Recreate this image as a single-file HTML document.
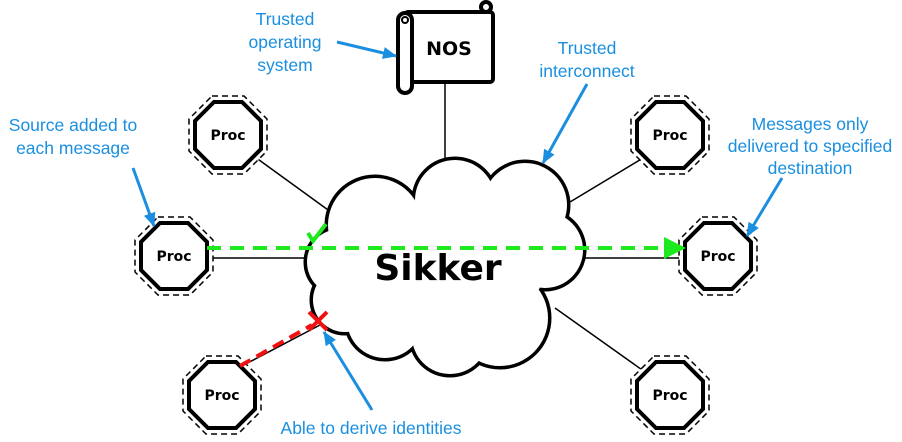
<!DOCTYPE html>
<html><head><meta charset="utf-8"><style>
html,body{margin:0;padding:0;background:#fff;width:902px;height:442px;overflow:hidden}
svg text{font-family:"Liberation Sans",sans-serif}
.lab{fill:#1a8fe0;font-size:17.5px;text-anchor:middle}
.pt{font-family:"DejaVu Sans",sans-serif!important;font-weight:bold;font-size:14px;text-anchor:middle}
</style></head><body>
<svg width="902" height="442" viewBox="0 0 902 442" xmlns="http://www.w3.org/2000/svg">
<defs>
<marker id="ba" markerWidth="14" markerHeight="12" refX="13" refY="6" orient="auto" markerUnits="userSpaceOnUse" viewBox="0 0 14 12"><path d="M0,0 L14,6 L0,12z" fill="#1a8fe0"/></marker>
<g id="oct">
<polygon points="-16,-39 16,-39 39,-16 39,16 16,39 -16,39 -39,16 -39,-16" fill="#fff" stroke="#000" stroke-width="1.5" stroke-dasharray="6,4"/>
<polygon points="-14,-33 14,-33 33,-14 33,14 14,33 -14,33 -33,14 -33,-14" fill="#fff" stroke="#000" stroke-width="4"/>
<text class="pt" y="5">Proc</text>
</g>
</defs>
<g stroke="#000" stroke-width="1.5">
<line x1="445" y1="82" x2="445" y2="180"/>
<line x1="255" y1="157" x2="335" y2="215"/>
<line x1="205" y1="258" x2="312" y2="258"/>
<line x1="240" y1="367" x2="320" y2="325"/>
<line x1="643" y1="158" x2="570" y2="202"/>
<line x1="570" y1="258" x2="685" y2="258"/>
<line x1="555" y1="308" x2="645" y2="372"/>
</g>
<g stroke="#000" stroke-width="7" fill="#000">
<circle cx="375" cy="225" r="47"/><circle cx="455" cy="200" r="40"/><circle cx="525" cy="205" r="42"/>
<circle cx="545" cy="250" r="38"/><circle cx="500" cy="318" r="48"/><circle cx="450" cy="336" r="38"/>
<circle cx="385" cy="320" r="38"/><circle cx="345" cy="300" r="32"/><circle cx="340" cy="262" r="33"/>
</g>
<g fill="#fff">
<circle cx="375" cy="225" r="47"/><circle cx="455" cy="200" r="40"/><circle cx="525" cy="205" r="42"/>
<circle cx="545" cy="250" r="38"/><circle cx="500" cy="318" r="48"/><circle cx="450" cy="336" r="38"/>
<circle cx="385" cy="320" r="38"/><circle cx="345" cy="300" r="32"/><circle cx="340" cy="262" r="33"/>
<ellipse cx="445" cy="268" rx="100" ry="62"/>
</g>
<text x="438" y="280" text-anchor="middle" style="font-family:'DejaVu Sans',sans-serif;font-weight:bold;font-size:36px">Sikker</text>
<g stroke="#000" stroke-width="4" fill="#fff" stroke-linejoin="round">
<rect x="405" y="12" width="88" height="70" rx="3"/>
<rect x="398" y="13" width="14" height="80" rx="7"/>
<circle cx="486" cy="7" r="5"/>
</g>
<circle cx="405" cy="20" r="3" fill="none" stroke="#000" stroke-width="2"/>
<text x="449" y="55" text-anchor="middle" style="font-family:'DejaVu Sans',sans-serif;font-weight:bold;font-size:19px">NOS</text>
<use href="#oct" x="228" y="135"/><use href="#oct" x="174" y="256"/><use href="#oct" x="222" y="395"/>
<use href="#oct" x="670" y="135"/><use href="#oct" x="718" y="256"/><use href="#oct" x="670" y="395"/>
<line x1="207" y1="248" x2="668" y2="248" stroke="#1ee81e" stroke-width="4" stroke-dasharray="14,9"/>
<path d="M664,237 L686,248 L664,259z" fill="#1ee81e"/>
<path d="M308,233 L313,241 L326,224" fill="none" stroke="#1ee81e" stroke-width="4"/>
<line x1="240" y1="366" x2="312" y2="325" stroke="#f01010" stroke-width="4" stroke-dasharray="12,7"/>
<path d="M309,312 L327,330 M327,312 L309,330" stroke="#f01010" stroke-width="4"/>
<text class="lab" x="285" y="25">Trusted</text><text class="lab" x="285" y="48">operating</text><text class="lab" x="285" y="71">system</text>
<text class="lab" x="587" y="54">Trusted</text><text class="lab" x="587" y="77">interconnect</text>
<text class="lab" x="73" y="131">Source added to</text><text class="lab" x="73" y="154">each message</text>
<text class="lab" x="810" y="130">Messages only</text><text class="lab" x="810" y="152">delivered to specified</text><text class="lab" x="810" y="174">destination</text>
<text class="lab" x="371" y="434">Able to derive identities</text>
<g stroke="#1a8fe0" stroke-width="3" marker-end="url(#ba)">
<line x1="337" y1="42" x2="396" y2="56"/>
<line x1="587" y1="84" x2="543" y2="163"/>
<line x1="133" y1="168" x2="154" y2="226"/>
<line x1="782" y1="178" x2="747" y2="236"/>
<line x1="372" y1="410" x2="324" y2="332"/>
</g>
</svg>
</body></html>
